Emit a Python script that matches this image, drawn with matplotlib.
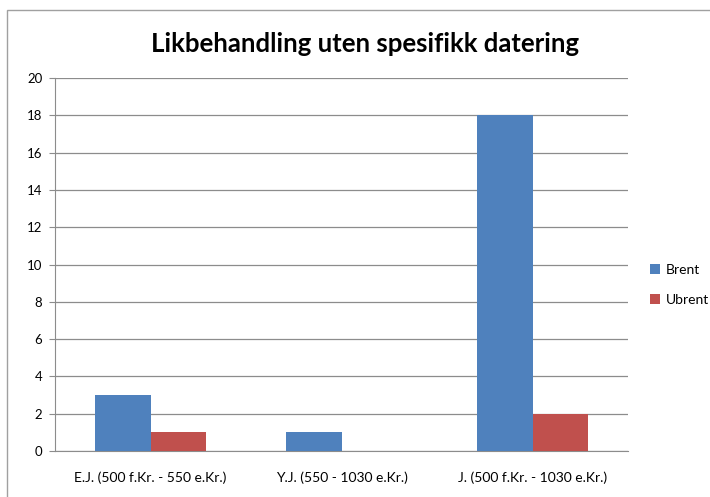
import matplotlib
matplotlib.use("Agg")
import matplotlib.pyplot as plt
import numpy as np
from matplotlib.patches import Rectangle

categories = ["E.J. (500 f.Kr. - 550 e.Kr.)", "Y.J. (550 - 1030 e.Kr.)", "J. (500 f.Kr. - 1030 e.Kr.)"]
brent = [3, 1, 18]
ubrent = [1, 0, 2]
yticks = [0, 2, 4, 6, 8, 10, 12, 14, 16, 18, 20]

plt.rcParams['font.family'] = ['Lato', 'DejaVu Sans']

fig = plt.figure(figsize=(7.1, 4.97), dpi=100)
# outer chart border
fig.patches.append(Rectangle((7 / 710, -0.1), 1.2, (497 - 10) / 497 + 0.1, transform=fig.transFigure,
                             fill=False, edgecolor="#a0a0a0", linewidth=1))

ax = fig.add_axes([55 / 710, 46 / 497, 573 / 710, 373 / 497])
x = np.arange(len(categories))
w = 0.288
ax.bar(x - w / 2, brent, w, color="#4f81bd", label="Brent", zorder=3)
ax.bar(x + w / 2, ubrent, w, color="#c0504d", label="Ubrent", zorder=3)

ax.set_xlim(-0.5, 2.5)
ax.set_ylim(0, 20)
ax.set_yticks(yticks)
ax.grid(axis="y", color="#8c8c8c", linewidth=0.9, zorder=0)
for s in ["top", "right"]:
    ax.spines[s].set_visible(False)
ax.spines["left"].set_color("#8c8c8c")
ax.spines["bottom"].set_color("#8c8c8c")
ax.tick_params(axis="y", length=4, color="#8c8c8c", labelsize=9.5, pad=5)
ax.set_xticks(x)
ax.set_xticklabels(categories)
ax.tick_params(axis="x", length=0, labelsize=10, pad=15)

fig.text(365 / 710, 1 - 44 / 497, "Likbehandling uten spesifikk datering", ha="center", va="center",
         fontsize=18.5, fontweight="bold")

ax.legend(loc="center left", bbox_to_anchor=(1.0, 0.445), frameon=False, fontsize=10,
          handlelength=0.7, handleheight=0.7, handletextpad=0.4, labelspacing=1.3,
          borderaxespad=1.2)

fig.savefig("out.png", dpi=100)
